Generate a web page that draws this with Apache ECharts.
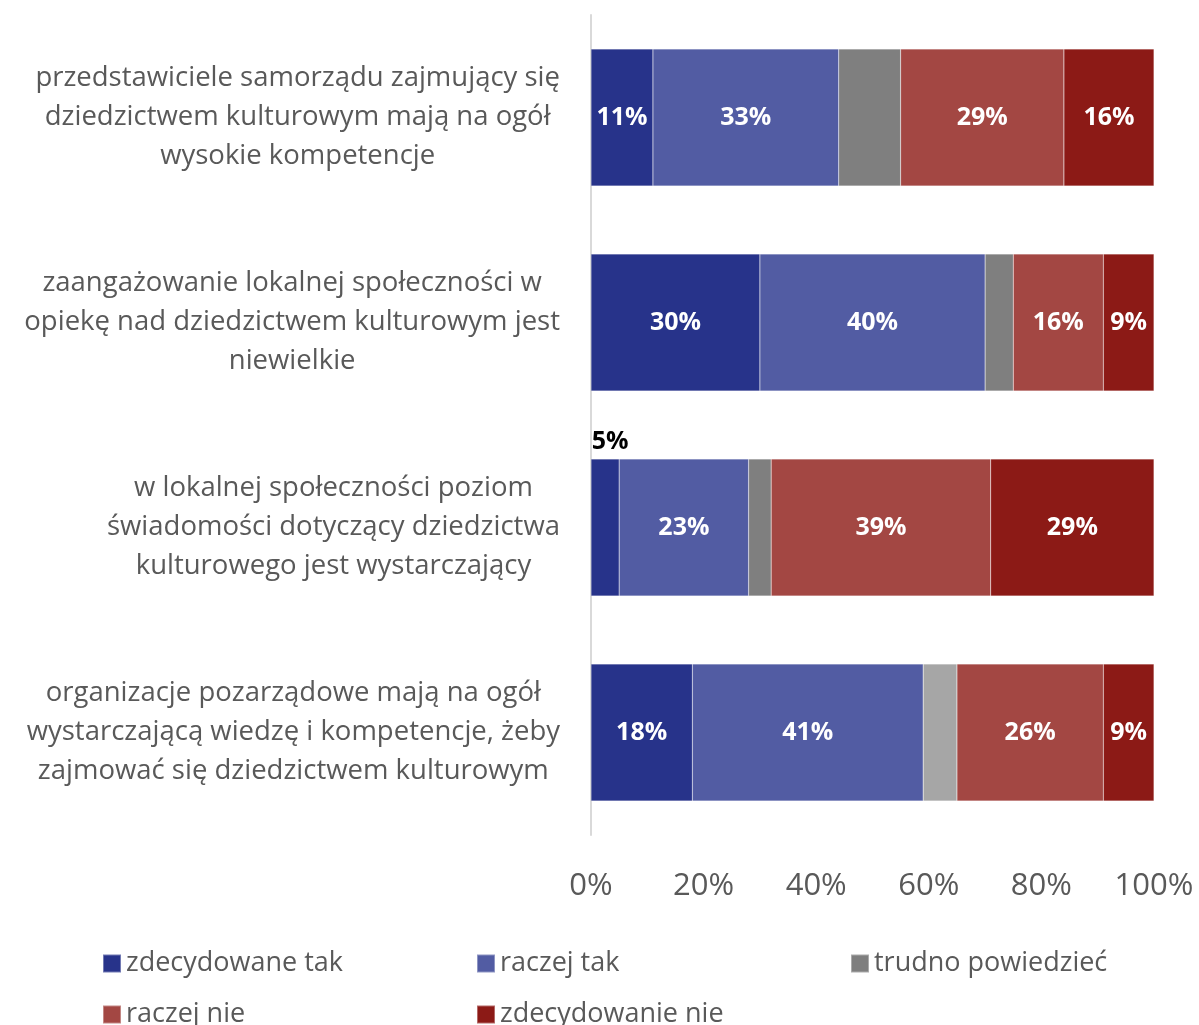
<!DOCTYPE html>
<html>
<head>
<meta charset="utf-8">
<script src="https://cdn.jsdelivr.net/npm/echarts@6/dist/echarts.min.js"></script>
<style>
html,body{margin:0;padding:0;background:#fff;}
#chart{width:1199px;height:1025px;}
</style>
</head>
<body>
<div id="chart"></div>
<script>
var categories = [
	'przedstawiciele samorządu zajmujący się\ndziedzictwem kulturowym mają na ogół\nwysokie kompetencje',
	'zaangażowanie lokalnej społeczności w\nopiekę nad dziedzictwem kulturowym jest\nniewielkie',
	'w lokalnej społeczności poziom\nświadomości dotyczący dziedzictwa\nkulturowego jest wystarczający',
	'organizacje pozarządowe mają na ogół\nwystarczającą wiedzę i kompetencje, żeby\nzajmować się dziedzictwem kulturowym'
];
var seriesNames = ['zdecydowane tak', 'raczej tak', 'trudno powiedzieć', 'raczej nie', 'zdecydowanie nie'];
var zdecydowanieTak = [11, 30, 5, 18];
var raczejTak = [33, 40, 23, 41];
var trudno = [11, 5, 4, 6];
var raczejNie = [29, 16, 39, 26];
var zdecydowanieNie = [16, 9, 29, 9];
var tickLabels = ['0%', '20%', '40%', '60%', '80%', '100%'];

var colors = ['#27338a', '#525ca3', '#7f7f7f', '#a34743', '#8c1a16'];
var font = '"Open Sans", "Noto Sans", sans-serif';

var myChart = echarts.init(document.getElementById('chart'))

function makeSeries(idx, values, showLabel) {
	var data = values.map(function(v, i) {
		var item = { value: v };
		// słupek 5% - etykieta nad słupkiem
		if(idx == 0 && i == 2) {
			item.label = { position: 'top', color: '#000', distance: 5, offset: [5, 0] }
		}
		// jaśniejszy szary w ostatnim wierszu
		if(idx == 2 && i == 3) {
			item.itemStyle = { color: '#a6a6a6' }
		}
		return item
	})
	return {
		name: seriesNames[idx],
		type: 'bar',
		stack: 'total',
		barWidth: 137,
		data: data,
		itemStyle: {
			color: colors[idx],
			borderColor: 'rgba(255,255,255,0.35)',
			borderWidth: 0.5
		},
		label: {
			show: showLabel,
			position: 'inside',
			formatter: '{c}%',
			color: '#fff',
			fontFamily: font,
			fontWeight: 'bold',
			fontSize: 25
		},
		emphasis: { disabled: true }
	}
}

var option = {
	animation: false,
	backgroundColor: '#fff',
	grid: {
		left: 591,
		right: 45,
		top: 15,
		bottom: 190
	},
	legend: {
		data: seriesNames,
		left: 97,
		top: 945,
		width: 1100,
		icon: 'rect',
		itemWidth: 18,
		itemHeight: 18,
		itemGap: 24,
		textStyle: {
			color: '#595959',
			fontFamily: font,
			fontSize: 27,
			width: 326,
			lineHeight: 18
		}
	},
	xAxis: {
		type: 'value',
		min: 0,
		max: 100,
		interval: 20,
		axisLine: { show: false },
		axisTick: { show: false },
		splitLine: { show: false },
		axisLabel: {
			margin: 36,
			color: '#595959',
			fontFamily: font,
			fontSize: 31,
			formatter: function(v) {
				return tickLabels[v / 20]
			}
		}
	},
	yAxis: {
		type: 'category',
		inverse: true,
		data: categories,
		axisLine: { show: true, lineStyle: { color: '#d9d9d9', width: 2 } },
		axisTick: { show: false },
		axisLabel: {
			margin: 31,
			align: 'right',
			formatter: function(v) {
				return v.split('\n').map(function(l) { return '{a|' + l + '}' }).join('\n')
			},
			rich: {
				a: {
					align: 'center',
					color: '#595959',
					fontFamily: font,
					fontSize: 27.5,
					lineHeight: 39
				}
			}
		}
	},
	series: [
		makeSeries(0, zdecydowanieTak, true),
		makeSeries(1, raczejTak, true),
		makeSeries(2, trudno, false),
		makeSeries(3, raczejNie, true),
		makeSeries(4, zdecydowanieNie, true)
	]
};
myChart.setOption(option);
</script>
</body>
</html>
